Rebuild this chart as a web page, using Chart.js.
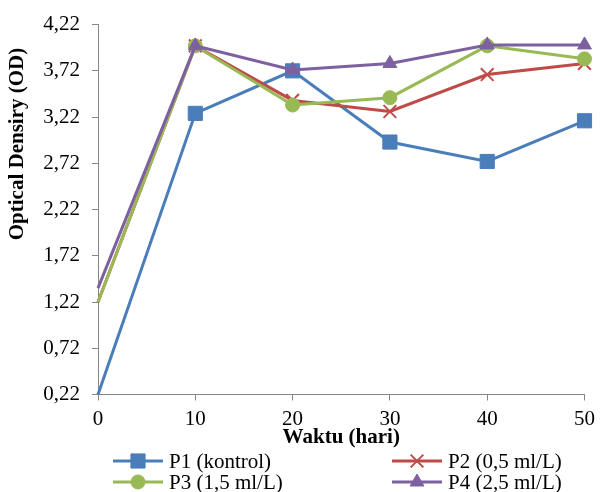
<!DOCTYPE html>
<html><head><meta charset="utf-8">
<script src="https://cdn.jsdelivr.net/npm/chart.js@4.4.1/dist/chart.umd.min.js"></script>
<style>html,body{margin:0;padding:0;background:#fff}canvas{display:block}</style>
</head><body>
<canvas id="c" width="601" height="492"></canvas>
<script>
// ---- data ----
const days = [0, 10, 20, 30, 40, 50];
const p1Kontrol = [0.22, 3.26, 3.72, 2.95, 2.74, 3.18];
const p2Dose05 = [1.22, 3.99, 3.40, 3.28, 3.68, 3.80];
const p3Dose15 = [1.22, 3.99, 3.35, 3.43, 3.99, 3.85];
const p4Dose25 = [1.37, 3.99, 3.73, 3.80, 4.00, 4.00];
const seriesNames = ['P1 (kontrol)', 'P2 (0,5 ml/L)', 'P3 (1,5 ml/L)', 'P4 (2,5 ml/L)'];
const yTickValues = [0.22, 0.72, 1.22, 1.72, 2.22, 2.72, 3.22, 3.72, 4.22];
const xTickValues = [0, 10, 20, 30, 40, 50];
const yTitle = 'Optical Densiry (OD)';
const xTitle = 'Waktu (hari)';

const FONT = "'Liberation Serif', 'Times New Roman', serif";
const AXIS = '#868686';

function pts(vals) { return days.map((d, i) => ({ x: d, y: vals[i] })); }
const hideFirst = r => ctx => ctx.dataIndex === 0 ? 0 : r;

const styles = [
  { color: '#4A7EBB', fill: '#4A7EBB', style: 'rect', r: 10, bw: 1 },
  { color: '#BE4B48', fill: '#BE4B48', style: 'crossRot', r: 9, bw: 2 },
  { color: '#98B954', fill: '#98B954', style: 'circle', r: 7, bw: 1 },
  { color: '#7D60A0', fill: '#7D60A0', style: 'triangle', r: 8, bw: 1 }
];
const seriesVals = [p1Kontrol, p2Dose05, p3Dose15, p4Dose25];

const datasets = seriesVals.map((v, i) => ({
  label: seriesNames[i],
  data: pts(v),
  borderColor: styles[i].color,
  backgroundColor: styles[i].fill,
  borderWidth: 3,
  tension: 0,
  pointStyle: styles[i].style,
  pointRadius: hideFirst(styles[i].r),
  pointHoverRadius: hideFirst(styles[i].r),
  pointBorderWidth: styles[i].bw,
  pointBorderColor: styles[i].color,
  pointBackgroundColor: styles[i].fill,
  clip: false,
  order: 3 - i
}));

function drawMarker(ctx, style, x, y, r, color, bw) {
  ctx.save();
  ctx.fillStyle = color; ctx.strokeStyle = color; ctx.lineWidth = bw;
  ctx.beginPath();
  if (style === 'rect') {
    const s = Math.SQRT1_2 * r;
    ctx.rect(x - s, y - s, 2 * s, 2 * s); ctx.fill(); ctx.stroke();
  } else if (style === 'circle') {
    ctx.arc(x, y, r, 0, Math.PI * 2); ctx.fill(); ctx.stroke();
  } else if (style === 'triangle') {
    let a = 0;
    ctx.moveTo(x + Math.sin(a) * r, y - Math.cos(a) * r);
    a += 2 * Math.PI / 3;
    ctx.lineTo(x + Math.sin(a) * r, y - Math.cos(a) * r);
    a += 2 * Math.PI / 3;
    ctx.lineTo(x + Math.sin(a) * r, y - Math.cos(a) * r);
    ctx.closePath(); ctx.fill(); ctx.stroke();
  } else if (style === 'crossRot') {
    const s = Math.SQRT1_2 * r;
    ctx.moveTo(x - s, y - s); ctx.lineTo(x + s, y + s);
    ctx.moveTo(x - s, y + s); ctx.lineTo(x + s, y - s);
    ctx.stroke();
  }
  ctx.restore();
}

const extrasPlugin = {
  id: 'extras',
  afterDraw(chart) {
    const ctx = chart.ctx;
    // y axis title
    ctx.save();
    ctx.translate(18, 144);
    ctx.rotate(-Math.PI / 2);
    ctx.font = 'bold 21px ' + FONT;
    ctx.fillStyle = '#000';
    ctx.textAlign = 'center';
    ctx.textBaseline = 'middle';
    ctx.fillText(yTitle, 0, 0);
    ctx.restore();
    // legend: 2 columns x 2 rows
    const cols = [113, 392];
    const rows = [461, 482];
    const lineLen = 50;
    chart.data.datasets.forEach((ds, i) => {
      const cx = cols[i % 2], cy = rows[Math.floor(i / 2)];
      const st = styles[i];
      ctx.save();
      ctx.strokeStyle = st.color; ctx.lineWidth = 3;
      ctx.beginPath(); ctx.moveTo(cx, cy); ctx.lineTo(cx + lineLen, cy); ctx.stroke();
      ctx.restore();
      drawMarker(ctx, st.style, cx + lineLen / 2, cy, st.r, st.color, st.bw);
      ctx.save();
      ctx.font = '21px ' + FONT;
      ctx.fillStyle = '#000';
      ctx.textAlign = 'left';
      ctx.textBaseline = 'middle';
      ctx.fillText(ds.label, cx + lineLen + 6, cy + 1);
      ctx.restore();
    });
  }
};

new Chart(document.getElementById('c'), {
  type: 'line',
  data: { datasets },
  options: {
    responsive: false,
    devicePixelRatio: 1,
    animation: false,
    layout: { padding: { top: 24, right: 14, left: 0, bottom: 0 } },
    plugins: { legend: { display: false }, tooltip: { enabled: false } },
    scales: {
      x: {
        type: 'linear', min: 0, max: 50,
        afterBuildTicks: s => { s.ticks = xTickValues.map(v => ({ value: v })); },
        afterFit: s => { s.height = 97.5; },
        grid: { drawOnChartArea: false, drawTicks: true, tickLength: 6, color: AXIS },
        border: { color: AXIS, width: 1 },
        ticks: { color: '#000', font: { family: FONT, size: 21 }, padding: 6, maxRotation: 0, callback: v => String(v) },
        title: { display: true, text: xTitle, color: '#000', font: { family: FONT, size: 21, weight: 'bold' }, padding: { top: 0, bottom: 42 } }
      },
      y: {
        type: 'linear', min: 0.22, max: 4.22,
        afterBuildTicks: s => { s.ticks = yTickValues.map(v => ({ value: v })); },
        afterFit: s => { s.width = 98; },
        grid: { drawOnChartArea: false, drawTicks: true, tickLength: 6, color: AXIS },
        border: { color: AXIS, width: 1 },
        ticks: { color: '#000', font: { family: FONT, size: 21 }, padding: 12, callback: v => v.toFixed(2).replace('.', ',') }
      }
    }
  },
  plugins: [extrasPlugin]
});
</script>
</body></html>
